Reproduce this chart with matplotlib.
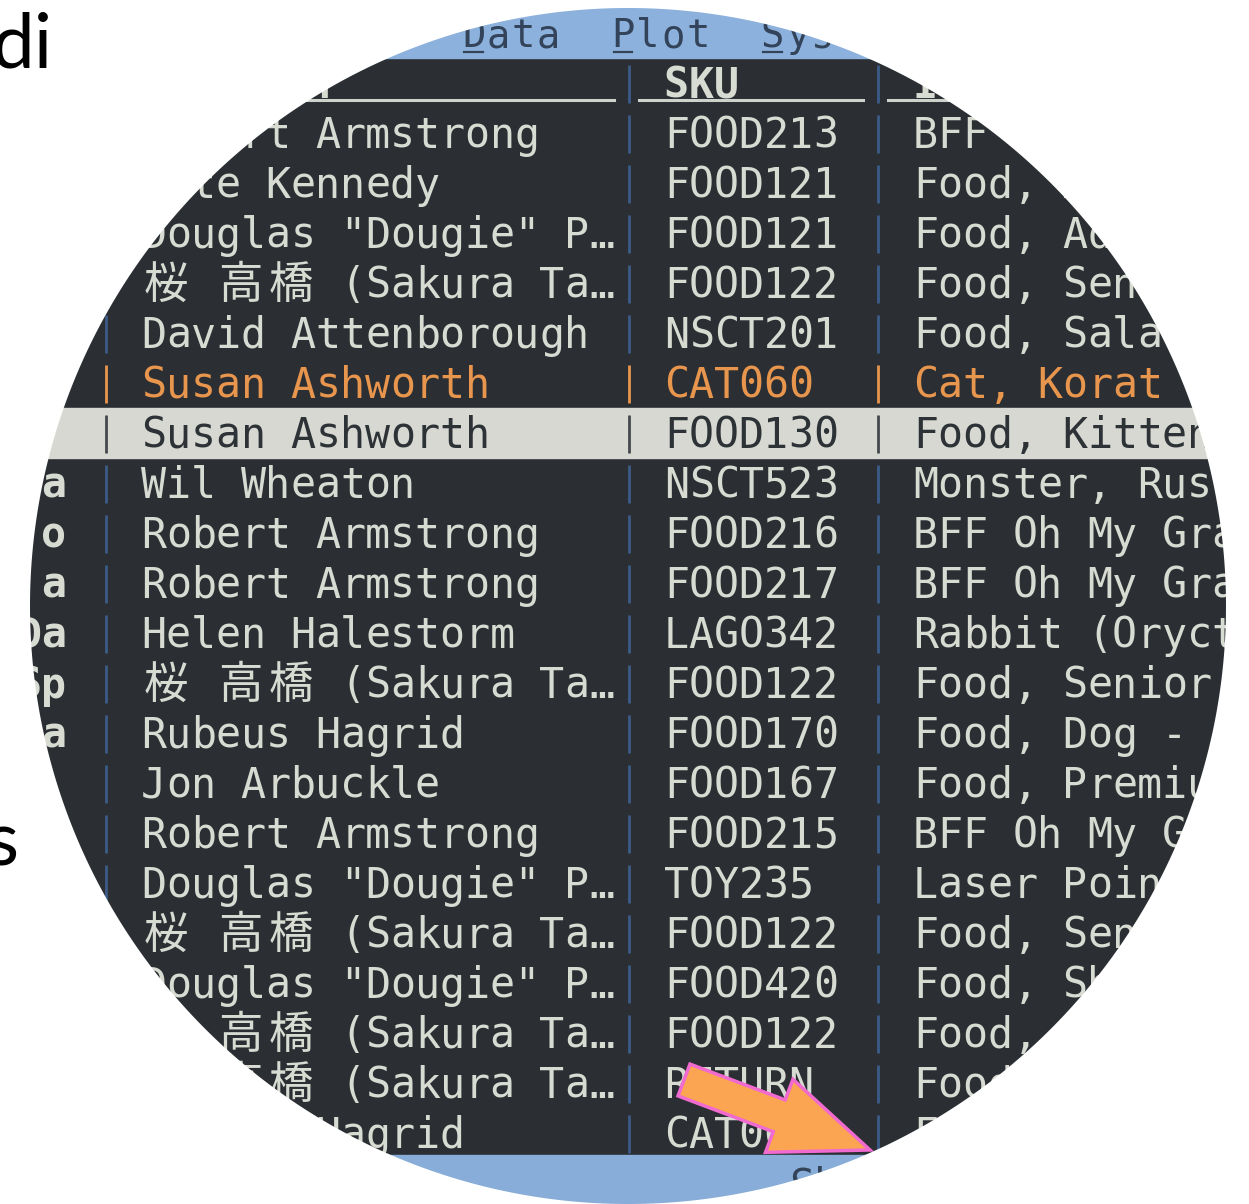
import matplotlib
matplotlib.use('Agg')
import matplotlib.pyplot as plt
import numpy as np
from matplotlib.patches import Rectangle, PathPatch, FancyArrow
from matplotlib.path import Path

W, H = 1249, 1204

# --- table contents (rows of the magnified terminal view) ---
left_col = ["", "", "", "", "", "", "", "a", "o", "a", "Da", "Sp", "a",
            "", "", "", "", "", "", "", ""]
names = ["Robert Armstrong", "Kate Kennedy", 'Douglas "Dougie" P…',
         "桜 高橋 (Sakura Ta…", "David Attenborough", "Susan Ashworth",
         "Susan Ashworth", "Wil Wheaton", "Robert Armstrong", "Robert Armstrong",
         "Helen Halestorm", "桜 高橋 (Sakura Ta…", "Rubeus Hagrid", "Jon Arbuckle",
         "Robert Armstrong", 'Douglas "Dougie" P…', "桜 高橋 (Sakura Ta…",
         'Douglas "Dougie" P…', "桜 高橋 (Sakura Ta…", "桜 高橋 (Sakura Ta…",
         "Rubeus Hagrid"]
skus = ["FOOD213", "FOOD121", "FOOD121", "FOOD122", "NSCT201", "CAT060",
        "FOOD130", "NSCT523", "FOOD216", "FOOD217", "LAGO342", "FOOD122",
        "FOOD170", "FOOD167", "FOOD215", "TOY235", "FOOD122", "FOOD420",
        "FOOD122", "RETURN", "CAT062"]
items = ["BFF Oh My Gravy!", "Food, Adult Cat", "Food, Adult Cat",
         "Food, Senior Cat", "Food, Salad Mix", "Cat, Korat", "Food, Kitten",
         "Monster, Rust", "BFF Oh My Gravy!", "BFF Oh My Gravy!",
         "Rabbit (Oryctolagus)", "Food, Senior Cat", "Food, Dog - Adult",
         "Food, Premium", "BFF Oh My Gravy!", "Laser Pointer", "Food, Senior Cat",
         "Food, Shrimp", "Food, Senior Cat", "Food, Senior Cat", "Food, Kitten"]
headers = ["Customer", "SKU", "Item"]
menu = ["File", "Edit", "View", "Data", "Plot", "System", "Help"]
status = "Showing 21 of 4015"
orange_row = 5
selected_row = 6

# --- colours ---
BG = '#2b2f33'
FG = '#d8dbd2'
ORANGE = '#e8954d'
SEL_BG = '#d6d8d1'
SEL_FG = '#2d3237'
SEP = '#3b5c88'
BAR = '#8bb1dc'
BAR_FG = '#33445a'

# terminal grid
X0, CW = 141, 24.9
BASE0, ROWH = 148, 50
COL_NAME, COL_SKU, COL_ITEM = 0, 21, 31
SEP_CELLS = [-2, 19, 29]

fig = plt.figure(figsize=(W / 100, H / 100), dpi=100)
ax = fig.add_axes([0, 0, 1, 1])
ax.set_xlim(0, W)
ax.set_ylim(H, 0)
ax.axis('off')


def put(s, cell, base, color, size=30, weight='normal', z=5):
    c = cell
    for ch in s:
        wide = ord(ch) > 0x2E80
        w = 2 if wide else 1
        x = X0 + (c + w / 2) * CW
        # characters fully off the canvas are never visible
        if ch != ' ' and -CW < x < W - CW / 2:
            ax.text(x, base, ch, ha='center', va='baseline',
                    color=color, fontsize=32 if wide else size, weight=weight,
                    family='Noto Sans CJK JP' if wide else 'DejaVu Sans Mono',
                    zorder=z)
        c += w


# background areas
ax.add_patch(Rectangle((0, 0), W, H, color=BG, zorder=0))
ax.add_patch(Rectangle((0, 0), W, 58, color=BAR, zorder=1))
sel_base = BASE0 + ROWH * selected_row
ax.add_patch(Rectangle((0, sel_base - 40), W, 50, color=SEL_BG, zorder=1))

# menu bar
mx = 13
for word in menu:
    cell = (mx - X0) / CW
    put(word, cell, 47, BAR_FG, size=28)
    ax.plot([mx + 3, mx + CW - 3], [52, 52], color=BAR_FG, lw=1.6, zorder=5)
    mx += (len(word) + 2) * CW

# header row
hb = BASE0 - ROWH
put(headers[0], COL_NAME, hb, FG, weight='bold')
put(headers[1], COL_SKU, hb, FG, weight='bold')
put(headers[2], COL_ITEM, hb, FG, weight='bold')
for a, b in [(-1, 19), (20, 29), (30, 60)]:
    ax.plot([X0 + a * CW, X0 + b * CW], [100, 100], color='#cfd2ca', lw=2.2, zorder=5)

# table rows
for i in range(len(names)):
    base = BASE0 + ROWH * i
    color = FG
    if i == orange_row:
        color = ORANGE
    if i == selected_row:
        color = SEL_FG
    put(left_col[i], -3 - len(left_col[i]), base, color, weight='bold')
    put(names[i], COL_NAME, base, color)
    put(skus[i], COL_SKU, base, color)
    put(items[i], COL_ITEM, base, color)

for i in range(-1, len(names)):
    base = BASE0 + ROWH * i
    sep = SEP
    if i == orange_row:
        sep = ORANGE
    if i == selected_row:
        sep = '#45494e'
    for c in SEP_CELLS:
        x = X0 + (c + 0.5) * CW + 2
        ax.plot([x, x], [base - 33, base + 5], color=sep, lw=2.0, zorder=4,
                solid_capstyle='butt')

# highlight arrow
ax.add_patch(FancyArrow(684, 1080, 186, 70, width=34, head_width=78, head_length=97,
                        length_includes_head=True, fc='#fba552', ec='#f06ad0',
                        lw=2.5, zorder=8))

# status bar
ax.add_patch(Rectangle((0, 1155), W, H - 1155, color='#87add8', zorder=9))
put(status, (789 - X0) / CW, 1199, BAR_FG, z=10)

# white mask outside the magnifier circle
cx, cy, r = 628, 606, 598
t = np.linspace(2 * np.pi, 0, 721)
circ = np.column_stack([cx + r * np.cos(t), cy + r * np.sin(t)])
rect = np.array([[-20, -20], [W + 20, -20], [W + 20, H + 20], [-20, H + 20], [-20, -20]])
verts = np.vstack([rect, circ])
codes = ([Path.MOVETO] + [Path.LINETO] * 3 + [Path.CLOSEPOLY] +
         [Path.MOVETO] + [Path.LINETO] * (len(circ) - 2) + [Path.CLOSEPOLY])
ax.add_patch(PathPatch(Path(verts, codes), fc='white', ec='none', zorder=50))

# slide text outside the circle
ax.text(53, 68, "di", ha='right', va='baseline', fontsize=55, family='Lato',
        color='black', zorder=60)
ax.text(19, 865, "s", ha='right', va='baseline', fontsize=55, family='Lato',
        color='black', zorder=60)

fig.savefig('out.png', dpi=100)
